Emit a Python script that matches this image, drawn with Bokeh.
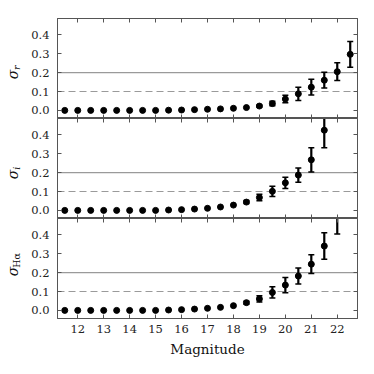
import math
from bokeh.plotting import figure
from bokeh.layouts import column, row
from bokeh.models import (ColumnDataSource, Whisker, TeeHead, Span, FixedTicker,
                          PrintfTickFormatter, LinearAxis, Range1d)
from bokeh.core.properties import value
from bokeh.embed import file_html
from bokeh.resources import INLINE

# ---------------- data ----------------
mag = [11.5, 12.0, 12.5, 13.0, 13.5, 14.0, 14.5, 15.0, 15.5, 16.0, 16.5, 17.0,
       17.5, 18.0, 18.5, 19.0, 19.5, 20.0, 20.5, 21.0, 21.5, 22.0, 22.5]

sigma_r = [0, 0, 0, 0, 0, 0, 0, 0, 0.001, 0.002, 0.004, 0.006,
           0.008, 0.011, 0.015, 0.023, 0.036, 0.060, 0.088, 0.123, 0.160, 0.205, 0.297]
err_r = [0, 0, 0, 0, 0, 0, 0, 0, 0, 0, 0, 0,
         0, 0, 0, 0.006, 0.012, 0.020, 0.035, 0.042, 0.042, 0.047, 0.068]

mag_i = mag[:21]
sigma_i = [0, 0, 0, 0, 0, 0, 0, 0, 0.002, 0.004, 0.007, 0.011,
           0.018, 0.028, 0.044, 0.068, 0.101, 0.146, 0.187, 0.268, 0.425]
err_i = [0, 0, 0, 0, 0, 0, 0, 0, 0, 0, 0, 0,
         0, 0, 0.008, 0.017, 0.027, 0.030, 0.038, 0.064, 0.093]

mag_ha = mag[:22]
sigma_ha = [0, 0, 0, 0, 0, 0, 0, 0, 0.002, 0.004, 0.007, 0.011,
            0.016, 0.025, 0.041, 0.061, 0.095, 0.134, 0.182, 0.245, 0.341, 0.510]
err_ha = [0, 0, 0, 0, 0, 0, 0, 0, 0, 0, 0, 0,
          0, 0, 0.008, 0.016, 0.030, 0.040, 0.042, 0.050, 0.070, 0.105]

x_ticks = [12, 13, 14, 15, 16, 17, 18, 19, 20, 21, 22]
y_ticks = [0.0, 0.1, 0.2, 0.3, 0.4]
dashed_level = 0.1
solid_level = 0.2
x_title = "Magnitude"
y_titles = [("σ", "r", "italic"), ("σ", "i", "italic"), ("σ", "Hα", "normal")]

# ---------------- style ----------------
FRAME = "#555555"
GUIDE = "#9a9a9a"
SERIF = "DejaVu Serif"
LABEL_W = 28
TOP_B = 18
BOT_B = 46


def style_axis(ax, ticks, show_labels, fmt=None, standoff=5):
    ax.ticker = FixedTicker(ticks=ticks)
    ax.major_tick_in = 4
    ax.major_tick_out = 0
    ax.minor_tick_in = 0
    ax.minor_tick_out = 0
    ax.axis_line_color = FRAME
    ax.major_tick_line_color = FRAME
    if fmt is not None:
        ax.formatter = fmt
    if show_labels:
        ax.major_label_text_font = SERIF
        ax.major_label_text_font_size = "11.5px"
        ax.major_label_text_color = "#222222"
        ax.major_label_standoff = standoff
    else:
        ax.major_label_text_font_size = "0px"
        ax.major_label_text_color = None
        ax.major_label_standoff = 0


def make_panel(xs, ys, es, top_border, bottom_border, bottom_labels):
    p = figure(frame_width=300, frame_height=100,
               x_range=Range1d(11.22, 22.78), y_range=Range1d(-0.043, 0.487),
               output_backend="svg", toolbar_location=None,
               x_axis_location=None, y_axis_location=None,
               min_border_left=55 - LABEL_W, min_border_right=17,
               min_border_top=top_border, min_border_bottom=bottom_border)
    p.xgrid.visible = False
    p.ygrid.visible = False
    p.outline_line_color = FRAME
    p.background_fill_color = "white"
    p.border_fill_color = "white"

    left = LinearAxis()
    style_axis(left, y_ticks, True, PrintfTickFormatter(format="%.1f"), standoff=8)
    p.add_layout(left, "left")
    right = LinearAxis()
    style_axis(right, y_ticks, False)
    p.add_layout(right, "right")
    top = LinearAxis()
    style_axis(top, x_ticks, False)
    p.add_layout(top, "above")
    bottom = LinearAxis()
    style_axis(bottom, x_ticks, bottom_labels, standoff=6)
    if bottom_labels:
        bottom.axis_label = x_title
        bottom.axis_label_text_font = SERIF
        bottom.axis_label_text_font_size = "13.5px"
        bottom.axis_label_text_font_style = "normal"
        bottom.axis_label_text_color = "#111111"
        bottom.axis_label_standoff = 5
    p.add_layout(bottom, "below")

    p.add_layout(Span(location=solid_level, dimension="width", line_color=GUIDE,
                      line_width=1.2, level="underlay"))
    p.add_layout(Span(location=dashed_level, dimension="width", line_color=GUIDE,
                      line_width=1.2, line_dash="7 4", level="underlay"))

    ex = [x for x, e in zip(xs, es) if e > 0]
    ey = [y for y, e in zip(ys, es) if e > 0]
    ee = [e for e in es if e > 0]
    wsrc = ColumnDataSource(dict(x=ex, lo=[y - e for y, e in zip(ey, ee)],
                                 hi=[y + e for y, e in zip(ey, ee)]))
    p.add_layout(Whisker(source=wsrc, base="x", lower="lo", upper="hi",
                         line_color="black", line_width=2.2,
                         upper_head=TeeHead(size=6, line_color="black", line_width=1.5),
                         lower_head=TeeHead(size=6, line_color="black", line_width=1.5)))

    src = ColumnDataSource(dict(x=xs, y=ys))
    p.scatter("x", "y", source=src, size=6, color="black")
    return p


def make_label(height, title, main_y, sub_y):
    main, sub, sub_style = title
    lf = figure(width=LABEL_W, height=height, x_range=Range1d(0, LABEL_W),
                y_range=Range1d(0, height), output_backend="svg", toolbar_location=None,
                x_axis_location=None, y_axis_location=None, min_border=0)
    lf.xgrid.visible = False
    lf.ygrid.visible = False
    lf.outline_line_color = None
    lf.text(x=[12.3], y=[main_y], text=[main], angle=math.pi / 2,
            text_font=value(SERIF), text_font_style="italic", text_font_size="14px",
            text_align="center", text_baseline="middle", text_color="#111111")
    lf.text(x=[15.8], y=[sub_y], text=[sub], angle=math.pi / 2,
            text_font=value(SERIF), text_font_style=sub_style, text_font_size="9.5px",
            text_align="center", text_baseline="middle", text_color="#111111")
    return lf


p1 = make_panel(mag, sigma_r, err_r, TOP_B, 0, False)
p2 = make_panel(mag_i, sigma_i, err_i, 0, 0, False)
p3 = make_panel(mag_ha, sigma_ha, err_ha, 0, BOT_B, True)

l1 = make_label(100 + TOP_B, y_titles[0], 44, 50.7)
l2 = make_label(100, y_titles[1], 44, 50.2)
l3 = make_label(100 + BOT_B, y_titles[2], BOT_B + 47, BOT_B + 58)

layout = row(column(l1, l2, l3, spacing=0), column(p1, p2, p3, spacing=0), spacing=0)

open("out.html", "w").write(file_html(layout, INLINE))
